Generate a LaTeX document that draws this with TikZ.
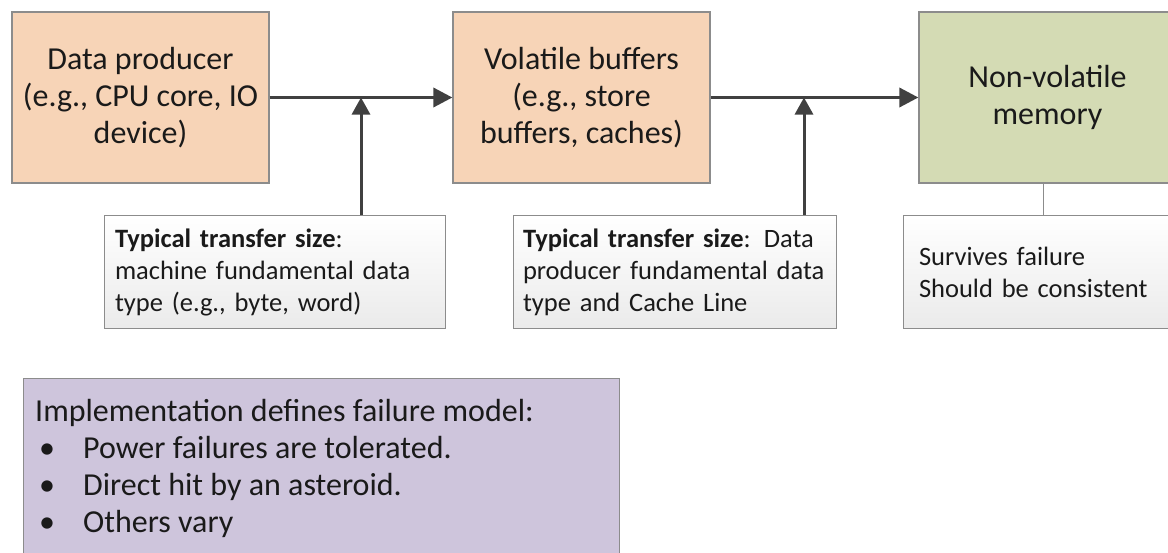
\documentclass[tikz,border=0pt]{standalone}
\usepackage{fontspec}
\setmainfont{Carlito}
\usetikzlibrary{arrows.meta}
\definecolor{peach}{HTML}{F7D4B7}
\definecolor{nvgreen}{HTML}{D4DBB4}
\definecolor{lilac}{HTML}{CEC5DC}
\definecolor{edgegray}{HTML}{8C8C8C}
\definecolor{arrowc}{HTML}{404040}
\definecolor{ink}{HTML}{1A1A1A}
\begin{document}
\begin{tikzpicture}[x=1pt,y=-1pt,
  bigbox/.style={draw=edgegray, line width=1.2pt, minimum width=257pt, minimum height=171pt,
    inner sep=0pt, align=center, font=\fontsize{32}{37}\selectfont, text=ink},
  note/.style={draw=edgegray, line width=1pt, top color=white, bottom color=black!8,
    minimum height=113pt, inner ysep=0pt, align=left, font=\fontsize{26.5}{32}\selectfont, text=ink},
  flow/.style={draw=arrowc, line width=3.5pt, -{Triangle[length=19pt,width=19pt]}},
  flowv/.style={draw=arrowc, line width=3pt, -{Triangle[length=17pt,width=18pt]}},
  thinlink/.style={draw=edgegray, line width=0.8pt},
  listtext/.style={anchor=north west, inner sep=0pt, align=left, font=\fontsize{32}{37}\selectfont, text=ink}]
\useasboundingbox (0,0) rectangle (1168,552);
\node[bigbox, fill=peach] (A) at (140.5,97.5) {Data producer\\(e.g., CPU core, IO\\device)};
\node[bigbox, fill=peach] (B) at (581.5,97.5) {Volatile buffers\\(e.g., store\\buffers, caches)};
\node[bigbox, fill=nvgreen] (C) at (1047.5,97.5) {Non-volatile\\memory};
\node[note, minimum width=341pt, text width=319pt, inner xsep=11pt] (N1) at (274.5,272)
  {\textbf{Typical transfer size}:\\machine fundamental data\\type (e.g., byte, word)};
\node[note, minimum width=323pt, text width=303pt, inner xsep=10pt] (N2) at (674.5,272)
  {\textbf{Typical transfer size}: Data\\producer fundamental data\\type and Cache Line};
\node[note, minimum width=280pt, text width=248pt, inner xsep=16pt] (N3) at (1043,272)
  {Survives failure\\Should be consistent};
\coordinate (J1) at (361,97.5);
\coordinate (J2) at (804,97.5);
\draw[flow] (A.east) -- (B.west);
\draw[flow] (B.east) -- (C.west);
\draw[flowv] (N1.north -| J1) -- (J1);
\draw[flowv] (N2.north -| J2) -- (J2);
\draw[thinlink] (N3.north |- C.south) -- (N3.north);
\node[draw=edgegray, line width=1.2pt, fill=lilac, minimum width=596pt, minimum height=190pt,
  anchor=north west, inner sep=0pt] (P) at (23,378) {};
\node[listtext] (PT) at (35,399)
  {Implementation defines failure model:\\
   \makebox[48pt][l]{\hspace{4pt}\textbullet}Power failures are tolerated.\\
   \makebox[48pt][l]{\hspace{4pt}\textbullet}Direct hit by an asteroid.\\
   \makebox[48pt][l]{\hspace{4pt}\textbullet}Others vary};
\end{tikzpicture}
\end{document}
